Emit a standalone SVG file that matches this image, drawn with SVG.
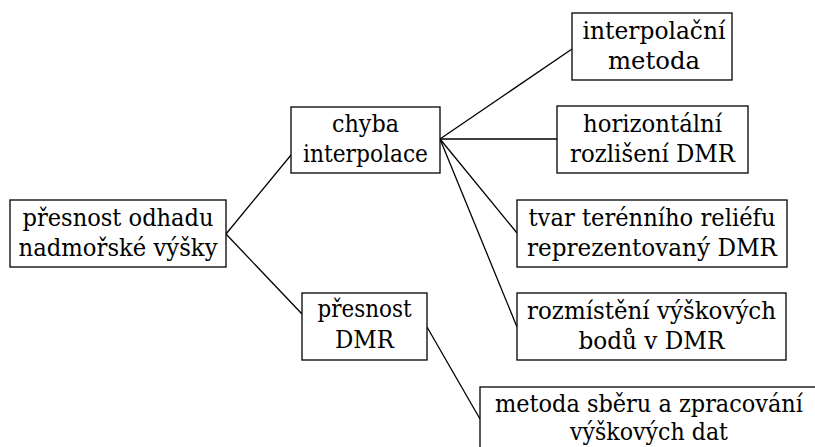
<svg xmlns="http://www.w3.org/2000/svg" width="815" height="447" viewBox="0 0 815 447">
<style>
.box{fill:#fff;stroke:#000;stroke-width:1.3}
.edge{stroke:#000;stroke-width:1.3;fill:none}
.t{font-family:'DejaVu Serif','Liberation Serif',serif;font-size:25px;fill:#000;text-anchor:middle}
</style>
<rect width="815" height="447" fill="#fff"/>
<g id="connectors">
<line class="edge" x1="226" y1="234" x2="291" y2="155"/>
<line class="edge" x1="226" y1="234" x2="302" y2="314"/>
<line class="edge" x1="440" y1="139" x2="572" y2="49"/>
<line class="edge" x1="440" y1="139" x2="557" y2="139"/>
<line class="edge" x1="440" y1="139" x2="517" y2="233"/>
<line class="edge" x1="440" y1="139" x2="517" y2="327"/>
<line class="edge" x1="427" y1="327" x2="480" y2="419"/>
</g>
<g id="root">
<rect class="box" x="10" y="200" width="216" height="67"/>
<text class="t" x="118" y="226" textLength="191" lengthAdjust="spacingAndGlyphs">přesnost odhadu</text>
<text class="t" x="118" y="256" textLength="199" lengthAdjust="spacingAndGlyphs">nadmořské výšky</text>
</g>
<g id="chyba">
<rect class="box" x="291" y="107" width="149" height="66"/>
<text class="t" x="365.5" y="132" textLength="67" lengthAdjust="spacingAndGlyphs">chyba</text>
<text class="t" x="365.5" y="162" textLength="125" lengthAdjust="spacingAndGlyphs">interpolace</text>
</g>
<g id="presnost-dmr">
<rect class="box" x="302" y="293" width="125" height="67"/>
<text class="t" x="364.5" y="317" textLength="94" lengthAdjust="spacingAndGlyphs">přesnost</text>
<text class="t" x="364.5" y="348" textLength="59" lengthAdjust="spacingAndGlyphs">DMR</text>
</g>
<g id="interpolacni-metoda">
<rect class="box" x="572" y="13" width="160" height="67"/>
<text class="t" x="654" y="39" textLength="143" lengthAdjust="spacingAndGlyphs">interpolační</text>
<text class="t" x="654" y="69" textLength="92" lengthAdjust="spacingAndGlyphs">metoda</text>
</g>
<g id="horizontalni">
<rect class="box" x="557" y="106" width="191" height="67"/>
<text class="t" x="652.5" y="132" textLength="139" lengthAdjust="spacingAndGlyphs">horizontální</text>
<text class="t" x="652.5" y="162" textLength="165" lengthAdjust="spacingAndGlyphs">rozlišení DMR</text>
</g>
<g id="tvar">
<rect class="box" x="517" y="200" width="270" height="67"/>
<text class="t" x="652" y="226" textLength="247" lengthAdjust="spacingAndGlyphs">tvar terénního reliéfu</text>
<text class="t" x="652" y="256" textLength="250" lengthAdjust="spacingAndGlyphs">reprezentovaný DMR</text>
</g>
<g id="rozmisteni">
<rect class="box" x="517" y="293" width="269" height="67"/>
<text class="t" x="651.5" y="319" textLength="249" lengthAdjust="spacingAndGlyphs">rozmístění výškových</text>
<text class="t" x="651.5" y="349" textLength="146" lengthAdjust="spacingAndGlyphs">bodů v DMR</text>
</g>
<g id="metoda-sberu">
<rect class="box" x="480" y="387" width="338" height="67"/>
<text class="t" x="649" y="412" textLength="308" lengthAdjust="spacingAndGlyphs">metoda sběru a zpracování</text>
<text class="t" x="649" y="440" textLength="158" lengthAdjust="spacingAndGlyphs">výškových dat</text>
</g>
</svg>
